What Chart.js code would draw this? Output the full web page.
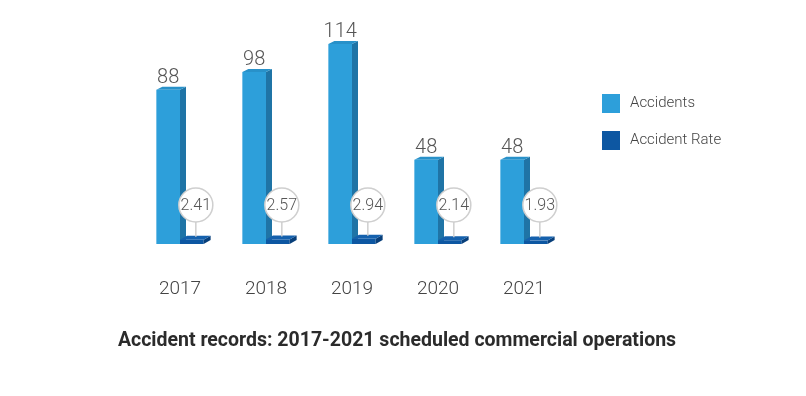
<!DOCTYPE html>
<html>
<head>
<meta charset="utf-8">
<script src="https://cdn.jsdelivr.net/npm/chart.js@4"></script>
<style>
  html, body { margin: 0; padding: 0; background: #fff; }
  #wrap { position: relative; width: 806px; height: 396px; }
</style>
</head>
<body>
<div id="wrap"><canvas id="chart"></canvas></div>
<script>
const years = ['2017', '2018', '2019', '2020', '2021'];
const accidents = [88, 98, 114, 48, 48];
const accidentRate = [2.41, 2.57, 2.94, 2.14, 1.93];
const chartTitle = 'Accident records: 2017-2021 scheduled commercial operations';

const lightBlue = '#2d9fda';
const lightSide = '#1f74a6';
const lightTop = '#2891c9';
const darkBlue = '#0d57a2';
const darkSide = '#083f7a';
const darkTop = '#1561ad';

function box3d(ctx, el, dx, dy, side, top) {
    const l = el.x - el.width / 2;
    const r = el.x + el.width / 2;
    ctx.fillStyle = side;
    ctx.beginPath();
    ctx.moveTo(r, el.y);
    ctx.lineTo(r + dx, el.y - dy);
    ctx.lineTo(r + dx, el.base - dy);
    ctx.lineTo(r, el.base);
    ctx.closePath();
    ctx.fill();
    ctx.fillStyle = top;
    ctx.beginPath();
    ctx.moveTo(l, el.y);
    ctx.lineTo(l + dx, el.y - dy);
    ctx.lineTo(r + dx, el.y - dy);
    ctx.lineTo(r, el.y);
    ctx.closePath();
    ctx.fill();
}

const depthPlugin = {
    id: 'depth',
    beforeDatasetsDraw(chart) {
        const ctx = chart.ctx;
        ctx.save();
        chart.getDatasetMeta(0).data.forEach(el => box3d(ctx, el, 6, 3, lightSide, lightTop));
        ctx.restore();
    },
    afterDatasetsDraw(chart) {
        const ctx = chart.ctx;
        ctx.save();
        // rate slabs
        chart.getDatasetMeta(1).data.forEach(el => box3d(ctx, el, 7, 4, darkSide, darkTop));

        // accident values
        ctx.fillStyle = '#555';
        ctx.font = '300 20px Roboto';
        ctx.textAlign = 'center';
        ctx.textBaseline = 'alphabetic';
        chart.getDatasetMeta(0).data.forEach((el, i) => {
            ctx.fillText(accidents[i], el.x, el.y - 7);
        });

        // rate bubbles
        chart.getDatasetMeta(1).data.forEach((el, i) => {
            const cx = el.x + 4;
            const cy = el.base - 39;
            ctx.strokeStyle = '#cfcfcf';
            ctx.lineWidth = 1.5;
            ctx.beginPath();
            ctx.moveTo(cx, cy + 17);
            ctx.lineTo(cx, el.y - 3);
            ctx.stroke();
            ctx.fillStyle = '#fff';
            ctx.beginPath();
            ctx.arc(cx, cy, 17, 0, Math.PI * 2);
            ctx.fill();
            ctx.stroke();
            ctx.fillStyle = '#555';
            ctx.font = '300 16px Roboto';
            ctx.textBaseline = 'middle';
            ctx.fillText(accidentRate[i].toFixed(2), cx, cy + 1);
        });

        // legend
        ctx.textAlign = 'left';
        ctx.textBaseline = 'middle';
        ctx.font = '300 15px Roboto';
        chart.data.datasets.forEach((ds, i) => {
            const y = 103 + i * 37;
            ctx.fillStyle = ds.backgroundColor;
            ctx.fillRect(602, y - 9, 18, 19);
            ctx.fillStyle = '#444';
            ctx.fillText(ds.label, 630, y);
        });

        // caption
        ctx.fillStyle = '#2b2b2b';
        ctx.font = 'bold 19.5px Roboto';
        ctx.textAlign = 'center';
        ctx.fillText(chartTitle, 397, 341);
        ctx.restore();
    }
};

new Chart(document.getElementById('chart'), {
    type: 'bar',
    data: {
        labels: years,
        datasets: [
            {
                label: 'Accidents',
                data: accidents,
                backgroundColor: lightBlue,
                categoryPercentage: 0.55,
                barPercentage: 1
            },
            {
                label: 'Accident Rate',
                data: accidentRate,
                backgroundColor: darkBlue,
                categoryPercentage: 0.55,
                barPercentage: 1
            }
        ]
    },
    options: {
        responsive: true,
        maintainAspectRatio: false,
        animation: false,
        layout: { padding: { left: 137, right: 239, top: 16, bottom: 92 } },
        plugins: {
            legend: { display: false },
            tooltip: { enabled: false }
        },
        scales: {
            x: {
                grid: { display: false, drawTicks: false },
                border: { display: false },
                ticks: { color: '#444', font: { family: 'Roboto', size: 19, weight: 300 }, padding: 34 },
                afterFit: scale => { scale.height = 60; }
            },
            y: {
                display: false,
                min: 0,
                max: 130
            }
        }
    },
    plugins: [depthPlugin]
});
</script>
</body>
</html>
